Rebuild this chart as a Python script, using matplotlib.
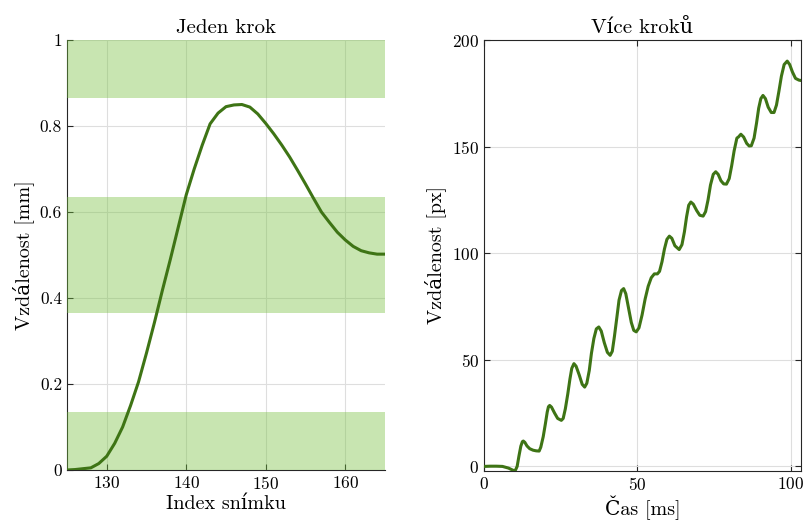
import matplotlib
matplotlib.use('Agg')
import matplotlib.pyplot as plt

plt.rcParams['font.family'] = ['cmr10', 'DejaVu Serif']
plt.rcParams['axes.formatter.use_mathtext'] = True
plt.rcParams['mathtext.fontset'] = 'cm'

# jeden krok - index snimku vs vzdalenost v mm
snimky = list(range(125, 166))
vzdalenost_mm = [0.000, 0.001, 0.003, 0.005, 0.015, 0.032, 0.062, 0.100, 0.150, 0.205,
                 0.272, 0.343, 0.418, 0.490, 0.565, 0.640, 0.700, 0.755, 0.805, 0.830,
                 0.845, 0.849, 0.850, 0.844, 0.828, 0.806, 0.782, 0.756, 0.728, 0.697,
                 0.665, 0.632, 0.600, 0.576, 0.553, 0.535, 0.520, 0.510, 0.505, 0.502,
                 0.502]

# zelene pasy (od, do)
pasy = [(0.0, 0.135), (0.365, 0.635), (0.865, 1.0)]

# vice kroku - cas vs vzdalenost v px
cas_ms = [0, 2, 4, 6, 8, 9, 10.1, 10.8, 11.4, 12.0, 12.5, 12.8, 13.3, 14.0, 14.9, 16, 17, 17.97,
          18.5, 19.3, 20, 20.6, 21.0, 21.4, 22, 23, 24, 25.2,
          25.8, 26.5, 27.3, 28, 28.6, 29.3, 30, 31, 32, 32.8,
          33.5, 34.3, 35, 35.8, 36.6, 37.4, 38.2, 39.2, 40.2, 41.1,
          41.8, 42.5, 43.3, 44, 44.8, 45.5, 46.2, 47, 48, 48.8, 49.6,
          50.5, 51.5, 52.5, 53.5, 54.5, 55.5, 56.5, 57.2, 58, 58.8, 59.6, 60.4,
          61.2, 62.2, 63.6, 64.5, 65.3, 66, 66.7, 67.4, 68.2, 69.3, 70.3, 71.4,
          72.2, 73, 73.8, 74.7, 75.5, 76.3, 77.2, 78.1, 79,
          79.9, 80.7, 81.5, 82.4, 82.9, 83.7, 84.6, 85.6, 86.4, 87.1,
          88, 88.8, 89.5, 90.2, 90.9, 91.7, 92.6, 93.6, 94.5,
          95.3, 96.1, 96.9, 97.8, 98.8, 99.6, 100.5, 101.5, 102.6, 103.3]
vzdalenost_px = [0, 0.1, 0.1, 0, -0.8, -1.5, -2.2, 0, 5, 9.5, 11.6, 11.9, 11.3, 9.6, 8.3, 7.6, 7.3, 7.2,
                 9, 14, 20, 25.5, 28, 28.6, 27.8, 25, 22.5, 21.6,
                 22.5, 27, 34, 41, 46, 48.2, 47, 43, 38.5, 37.2,
                 39, 45, 53, 60, 64.5, 65.4, 63.5, 58, 53.5, 52.1,
                 54, 61, 70, 78, 82.5, 83.4, 81, 75, 67.5, 63.8, 63.1,
                 65, 71, 78.5, 84.5, 88.5, 90.3, 90.3, 91.5, 96, 102, 106.5, 108,
                 107, 103.5, 101.7, 104, 110, 117, 122.5, 124, 123, 120, 117.8, 117.4,
                 119.5, 125, 132, 137, 138.2, 137, 134, 132.5, 132.4,
                 135, 141, 148, 154, 154.5, 155.8, 154.5, 151.5, 150.3, 150.4,
                 154, 161, 168, 172.5, 174, 172.5, 168.5, 166, 166,
                 169.5, 176, 183, 188.5, 190.1, 188.5, 185, 182, 181.2, 181]

x_ticky_1 = [130, 140, 150, 160]
y_ticky_1 = [0, 0.2, 0.4, 0.6, 0.8, 1]
y_popisky_1 = ['0', '0.2', '0.4', '0.6', '0.8', '1']
x_ticky_2 = [0, 50, 100]
y_ticky_2 = [0, 50, 100, 150, 200]

barva_cary = '#3e7415'
barva_pasu = '#76c03e'

fig = plt.figure(figsize=(8.04, 5.21), dpi=100)
ax1 = fig.add_axes([0.0833, 0.0979, 0.3956, 0.8253])
ax2 = fig.add_axes([0.602, 0.0966, 0.3943, 0.8266])

# levy graf
for od, do in pasy:
    ax1.axhspan(od, do, color=barva_pasu, alpha=0.4, lw=0, zorder=3)
ax1.plot(snimky, vzdalenost_mm, color=barva_cary, lw=2.2, zorder=4)
ax1.set_xlim(125, 165)
ax1.set_ylim(0, 1)
ax1.set_xticks(x_ticky_1)
ax1.set_yticks(y_ticky_1)
ax1.set_yticklabels(y_popisky_1)
ax1.spines['top'].set_visible(False)
ax1.spines['right'].set_visible(False)
ax1.set_title('Jeden krok', fontsize=15, pad=5)
ax1.set_xlabel('Index snímku', fontsize=14.5, labelpad=2)
ax1.set_ylabel('Vzdálenost [mm]', fontsize=14.5, labelpad=4)

# pravy graf
ax2.plot(cas_ms, vzdalenost_px, color=barva_cary, lw=2.2, zorder=4)
ax2.set_xlim(0, 103.3)
ax2.set_ylim(-2, 200)
ax2.set_xticks(x_ticky_2)
ax2.set_yticks(y_ticky_2)
ax2.set_title('Více kroků', fontsize=15, pad=5)
ax2.set_xlabel('Čas [ms]', fontsize=14.5, labelpad=2)
ax2.set_ylabel('Vzdálenost [px]', fontsize=14.5, labelpad=4)

for ax in (ax1, ax2):
    ax.grid(True, color='#dedede', lw=0.8, zorder=0)
    ax.set_axisbelow(True)
    ax.tick_params(direction='in', labelsize=12.5, length=4, width=0.8, color='#262626')
    for s in ax.spines.values():
        s.set_color('#262626')
        s.set_linewidth(0.8)
ax2.tick_params(top=True, right=True)

fig.savefig('out.png', dpi=100)
